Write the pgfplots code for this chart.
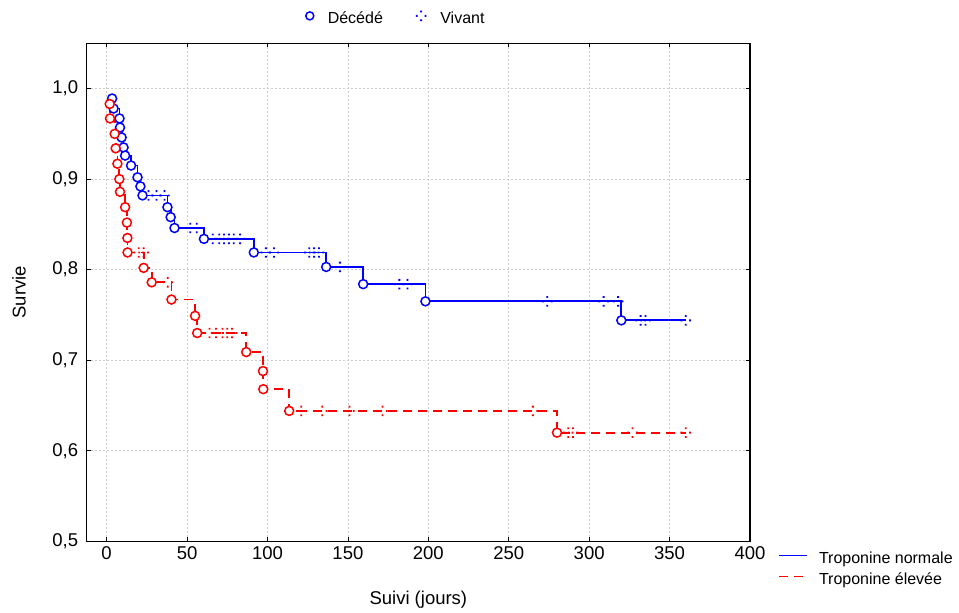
\documentclass[border=0pt]{standalone}
\usepackage{fontspec}
\setmainfont{Liberation Sans}
\usepackage{pgfplots}
\pgfplotsset{compat=1.18}
\pgfdeclareplotmark{cens}{%
  \pgfpathrectangle{\pgfpoint{-0.9pt}{3.4pt}}{\pgfpoint{1.8pt}{1.8pt}}%
  \pgfpathrectangle{\pgfpoint{-0.9pt}{-5.2pt}}{\pgfpoint{1.8pt}{1.8pt}}%
  \pgfpathrectangle{\pgfpoint{3.4pt}{-0.9pt}}{\pgfpoint{1.8pt}{1.8pt}}%
  \pgfpathrectangle{\pgfpoint{-5.2pt}{-0.9pt}}{\pgfpoint{1.8pt}{1.8pt}}%
  \pgfusepathqfill}
\newcommand{\fs}{\fontsize{16}{19}\selectfont}
\newcommand{\fl}{\fontsize{18.5}{22}\selectfont}
\begin{document}
\begin{tikzpicture}[font=\fs]
\useasboundingbox (-86.7pt,-71.7pt) rectangle (872.3pt,541.3pt);
\begin{axis}[
  at={(0pt,0pt)}, anchor=south west,
  scale only axis, width=663.3pt, height=498pt,
  xmin=-12.4, xmax=400, ymin=0.5, ymax=1.05,
  xtick={0,50,...,400}, ytick={0.5,0.6,0.7,0.8,0.9,1.0},
  tick align=inside, major tick length=4pt,
  tick style={black, line width=0.8pt},
  axis line style={black, line width=1.2pt},
  grid=major, grid style={gray!40, dash pattern=on 2.5pt off 1.5pt, line width=0.6pt},
  /pgf/number format/assume math mode=true,
  tick label style={font=\fl},
  yticklabel style={xshift=-5pt, /pgf/number format/.cd, fixed, fixed zerofill, precision=1, use comma},
  xticklabel style={yshift=-2pt, /pgf/number format/.cd, fixed, precision=0},
  xlabel={Suivi (jours)}, ylabel={Survie},
  label style={font=\fl},
  xlabel style={at={(axis description cs:0.5,-0.118)}, anchor=center},
  ylabel style={at={(axis description cs:-0.102,0.5)}, anchor=center},
  legend style={at={(axis description cs:1,0)}, anchor=north west, xshift=28pt, yshift=-10pt,
    draw=none, fill=none, font=\fs, row sep=5pt, inner sep=0pt,
    nodes={inner sep=0pt, text height=12pt, text depth=4pt},
    /tikz/every odd column/.append style={column sep=11pt}},
  legend cell align=left,
  legend image code/.code={\draw[#1] (0pt,4pt) -- (28pt,4pt);},
]
% step lines
\addplot[const plot, color=blue, line width=1.8pt] coordinates {
(3.4,0.989) (4.3,0.978) (8.0,0.967) (8.3,0.957) (9.3,0.946) (10.5,0.935)
(11.5,0.926) (15.2,0.915) (19.2,0.902) (21,0.892) (22.3,0.882) (37.8,0.869)
(39.8,0.858) (42.2,0.846) (60.5,0.834) (91.5,0.819) (136.5,0.803) (159.5,0.784)
(198.2,0.765) (320,0.744) (360,0.744)};
\addlegendentry{Troponine normale}
\addplot[const plot, color=red, line width=1.8pt, dash pattern=on 9pt off 6pt] coordinates {
(1.9,0.983) (2.1,0.967) (5.0,0.950) (5.6,0.934) (6.7,0.917) (7.9,0.900)
(8.3,0.886) (11.5,0.869) (12.6,0.852) (12.9,0.835) (13.0,0.819) (23.0,0.802)
(28.0,0.786) (40.3,0.767) (55.0,0.749) (56.3,0.730) (86.8,0.709) (97.2,0.688)
(97.4,0.668) (113.5,0.644) (280,0.620) (360,0.620)};
\addlegendentry{Troponine élevée}
% censored marks
\addplot[forget plot, only marks, mark=cens, color=blue] coordinates {
(26,0.882) (31,0.882) (36,0.882) (52,0.846) (56,0.846)
(66,0.834) (70,0.834) (73,0.834) (76,0.834) (79,0.834) (83,0.834)
(99,0.819) (104,0.819) (126,0.819) (129,0.819) (132,0.819)
(145,0.803) (182,0.784) (187,0.784)
(274,0.765) (309,0.765) (318,0.765)
(332,0.744) (335,0.744) (360,0.744)};
\addplot[forget plot, only marks, mark=cens, color=red] coordinates {
(20,0.819) (23,0.819) (38,0.786)
(64,0.730) (68,0.730) (72,0.730) (75,0.730) (78,0.730)
(121,0.644) (134,0.644) (151,0.644) (171.5,0.644) (265,0.644)
(287,0.620) (290,0.620) (327,0.620) (360,0.620)};
% deaths
\addplot[forget plot, only marks, mark=*, mark size=4.5pt, color=blue, line width=1.5pt, mark options={fill=white}] coordinates {
(3.4,0.989) (4.3,0.978) (8.0,0.967) (8.3,0.957) (9.3,0.946) (10.5,0.935)
(11.5,0.926) (15.2,0.915) (19.2,0.902) (21,0.892) (22.3,0.882) (37.8,0.869)
(39.8,0.858) (42.2,0.846) (60.5,0.834) (91.5,0.819) (136.5,0.803) (159.5,0.784)
(198.2,0.765) (320,0.744)};
\addplot[forget plot, only marks, mark=*, mark size=4.5pt, color=red, line width=1.5pt, mark options={fill=white, solid}] coordinates {
(1.9,0.983) (2.1,0.967) (5.0,0.950) (5.6,0.934) (6.7,0.917) (7.9,0.900)
(8.3,0.886) (11.5,0.869) (12.6,0.852) (12.9,0.835) (13.0,0.819) (23.0,0.802)
(28.0,0.786) (40.3,0.767) (55.0,0.749) (56.3,0.730) (86.8,0.709) (97.2,0.688)
(97.4,0.668) (113.5,0.644) (280,0.620)};
\end{axis}
\begin{axis}[
  at={(0pt,0pt)}, anchor=south west,
  scale only axis, width=663.3pt, height=498pt,
  hide axis, xmin=0, xmax=1, ymin=0, ymax=1,
  legend columns=2,
  legend style={at={(axis description cs:0.33,1)}, anchor=west, yshift=24pt,
    draw=none, fill=none, font=\fs, inner sep=0pt,
    nodes={inner sep=0pt, text height=12pt, text depth=4pt},
    /tikz/every odd column/.append style={column sep=14pt},
    /tikz/every even column/.append style={column sep=33pt}},
  legend image code/.code={\draw[#1] plot coordinates {(4.75pt,4pt)};},
]
\addlegendimage{only marks, mark=o, mark size=4pt, line width=1.5pt, color=blue}
\addlegendentry{Décédé}
\addlegendimage{only marks, mark=cens, color=blue}
\addlegendentry{Vivant}
\end{axis}
\end{tikzpicture}
\end{document}
